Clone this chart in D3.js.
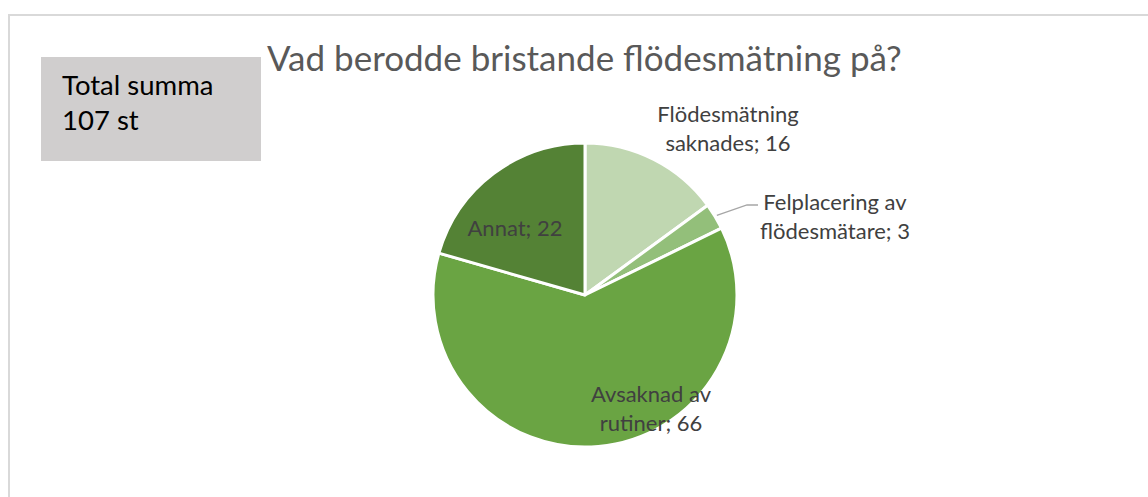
<!DOCTYPE html>
<html><head><meta charset="utf-8">
<script src="https://cdn.jsdelivr.net/npm/d3@7"></script>
<style>body{margin:0;background:#fff;} svg{display:block;}</style>
</head><body>
<svg id="c" width="1148" height="497"></svg>
<script>
const categories = ["Flödesmätning saknades", "Felplacering av flödesmätare", "Avsaknad av rutiner", "Annat"];
const values = [16, 3, 66, 22];
const colors = ["#c0d7b1", "#93bf7a", "#6aa443", "#548235"];
const labelLines = [["Flödesmätning", "saknades; 16"], ["Felplacering av", "flödesmätare; 3"], ["Avsaknad av", "rutiner; 66"], ["Annat; 22"]];
const titleText = "Vad berodde bristande flödesmätning på?";
const totalText = ["Total summa", "107 st"];

const svg = d3.select("#c");
const font = "Lato, 'Open Sans', sans-serif";
// frame
svg.append("path").attr("d","M9,497 L9,15 L1148,15").attr("fill","none").attr("stroke","#d9d9d9").attr("stroke-width",2);
// total box
svg.append("rect").attr("x",41).attr("y",57).attr("width",220).attr("height",104).attr("fill","#d0cece");
svg.append("g").selectAll("text").data(totalText).join("text")
  .attr("x",62).attr("y",(d,i)=>95+i*35).attr("font-family",font).attr("font-size",27.5).attr("fill","#000").text(d=>d);
// title
svg.append("text").attr("x",267).attr("y",71).attr("font-family",font).attr("font-size",35).attr("fill","#595959").text(titleText);

const cx=585, cy=295, r=152;
const pie = d3.pie().sort(null).value(d=>d)(values);
const arc = d3.arc().innerRadius(0).outerRadius(r);
const g = svg.append("g").attr("transform",`translate(${cx},${cy})`);
g.selectAll("path").data(pie).join("path").attr("d",arc).attr("fill",(d,i)=>colors[i]).attr("stroke","#fff").attr("stroke-width",3).attr("stroke-linejoin","round");

// label placement (relative to pie centre)
const labelPos = [{x:143,y:-173},{x:250,y:-85},{x:66,y:107},{x:-70,y:-59}];
const lh = 28.5;
labelLines.forEach((lines,i)=>{
  const p = labelPos[i];
  const t = g.append("text").attr("font-family",font).attr("font-size",22).attr("fill","#404040").attr("text-anchor","middle");
  lines.forEach((l,j)=>t.append("tspan").attr("x",p.x).attr("y",p.y+j*lh).text(l));
});
// leader line for small slice
const mid = (pie[1].startAngle+pie[1].endAngle)/2;
const sx = Math.sin(mid)*(r+2), sy = -Math.cos(mid)*(r+2);
g.append("polyline").attr("points",`${sx},${sy} ${162},${-90} ${173},${-90}`).attr("fill","none").attr("stroke","#a6a6a6").attr("stroke-width",1.3);
</script>
</body></html>
